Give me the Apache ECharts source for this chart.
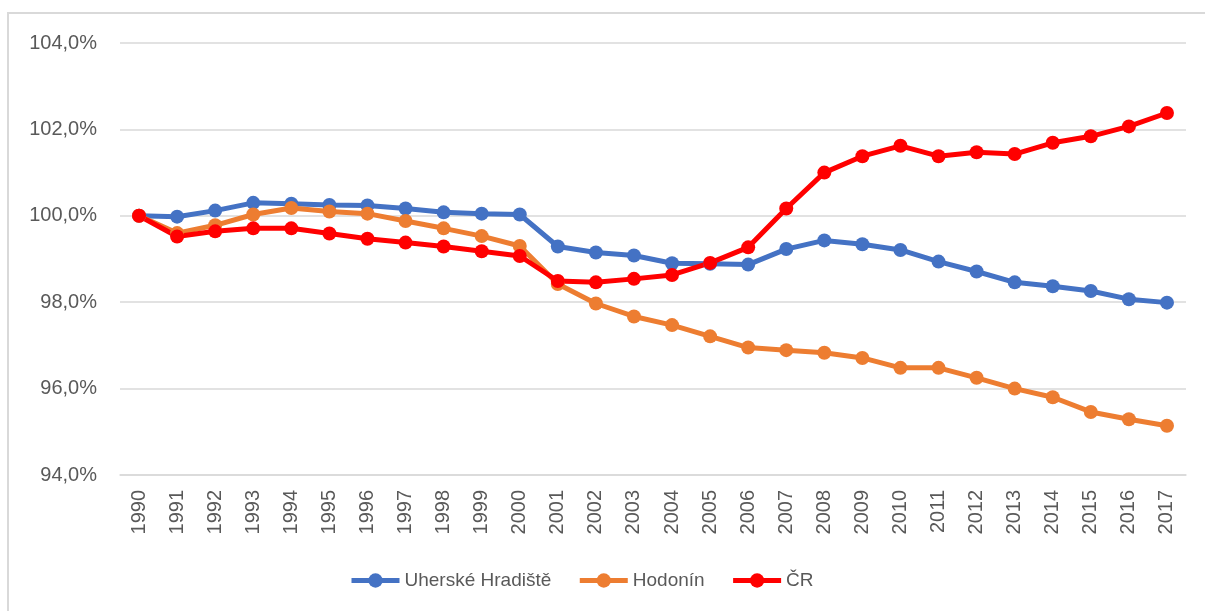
<!DOCTYPE html>
<html>
<head>
<meta charset="utf-8">
<script src="https://cdn.jsdelivr.net/npm/echarts@6/dist/echarts.min.js"></script>
<style>
body {
  margin: 0;
  background: #fff;
}
.frame {
  position: absolute;
  left: 7px;
  top: 12px;
  width: 1210px;
  height: 610px;
  border-left: 2px solid #d9d9d9;
  border-top: 2px solid #d9d9d9;
}
#chart {
  position: absolute;
  left: 0;
  top: 0;
  width: 1205px;
  height: 611px;
}
</style>
</head>
<body>
<div class="frame"></div>
<div id="chart"></div>
<script>
const years = ['1990', '1991', '1992', '1993', '1994', '1995', '1996', '1997', '1998', '1999',
  '2000', '2001', '2002', '2003', '2004', '2005', '2006', '2007', '2008', '2009',
  '2010', '2011', '2012', '2013', '2014', '2015', '2016', '2017']

// hodnoty v % (1990 = 100 %)
const uherskeHradiste = [100.0, 99.98, 100.12, 100.3, 100.28, 100.25, 100.24, 100.17, 100.08, 100.05,
  100.03, 99.29, 99.15, 99.08, 98.9, 98.89, 98.87, 99.23, 99.43, 99.34,
  99.21, 98.94, 98.71, 98.46, 98.37, 98.26, 98.07, 97.99]
const hodonin = [100.0, 99.6, 99.78, 100.03, 100.18, 100.1, 100.05, 99.88, 99.71, 99.53,
  99.3, 98.42, 97.97, 97.67, 97.47, 97.21, 96.95, 96.89, 96.83, 96.71,
  96.48, 96.48, 96.25, 96.0, 95.8, 95.46, 95.29, 95.14]
const cr = [100.0, 99.52, 99.64, 99.71, 99.71, 99.59, 99.47, 99.38, 99.29, 99.18,
  99.07, 98.49, 98.46, 98.54, 98.63, 98.91, 99.27, 100.17, 101.0, 101.38,
  101.62, 101.38, 101.47, 101.43, 101.69, 101.84, 102.07, 102.38]

const seriesNames = ['Uherské Hradiště', 'Hodonín', 'ČR']
const seriesColors = ['#4472C4', '#ED7D31', '#FF0000']
const seriesData = [uherskeHradiste, hodonin, cr]

const fontFamily = '"Liberation Sans", Arial, sans-serif'

const makeSeries = (i) => ({
  name: seriesNames[i],
  type: 'line',
  data: seriesData[i],
  symbol: 'circle',
  symbolSize: 14,
  showSymbol: true,
  lineStyle: {
    width: 5,
    color: seriesColors[i],
  },
  itemStyle: {
    color: seriesColors[i],
  },
  animation: false,
})

const option = {
  backgroundColor: 'transparent',
  grid: {
    left: 120,
    right: 19,
    top: 43,
    bottom: 136,
  },
  legend: {
    bottom: 16,
    left: 344,
    itemWidth: 48,
    itemHeight: 18,
    itemGap: 26,
    lineStyle: {
      width: 5,
    },
    textStyle: {
      color: '#595959',
      fontSize: 19,
      fontFamily: fontFamily,
    },
    data: seriesNames,
  },
  xAxis: {
    type: 'category',
    data: years,
    boundaryGap: true,
    axisLine: {
      lineStyle: {
        color: '#d9d9d9',
        width: 1.5,
      },
    },
    axisTick: { show: false },
    axisLabel: {
      rotate: 90,
      margin: 15,
      color: '#595959',
      fontSize: 20,
      fontFamily: fontFamily,
    },
  },
  yAxis: {
    type: 'value',
    min: 94,
    max: 104,
    interval: 2,
    axisLine: { show: false },
    axisTick: { show: false },
    axisLabel: {
      margin: 23,
      color: '#595959',
      fontSize: 20,
      fontFamily: fontFamily,
      formatter: function (value) {
        return value.toFixed(1).replace('.', ',') + '%'
      },
    },
    splitLine: {
      lineStyle: {
        color: '#d9d9d9',
        width: 1.5,
      },
    },
  },
  series: [makeSeries(0), makeSeries(1), makeSeries(2)],
}

const chart = echarts.init(document.getElementById('chart'), null, { renderer: 'canvas' })
chart.setOption(option)
</script>
</body>
</html>
